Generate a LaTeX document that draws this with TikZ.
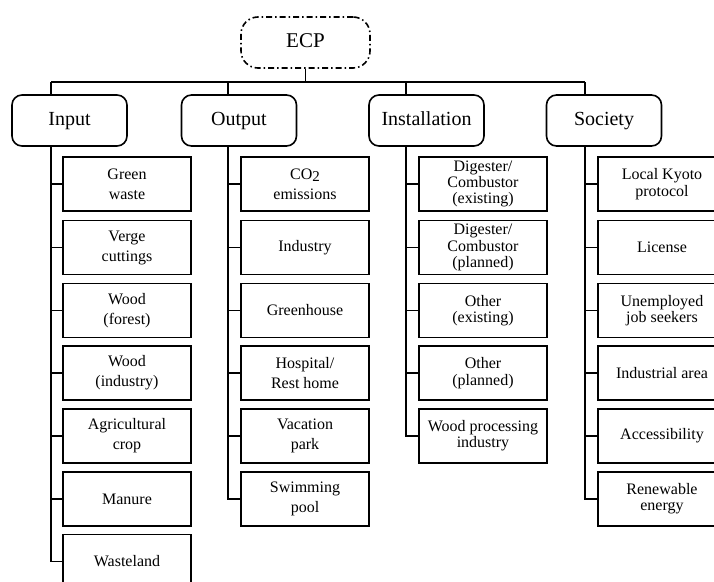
\documentclass[tikz,border=0pt]{standalone}
\usepackage{fontspec}
\setmainfont{Liberation Serif}
\begin{document}
\begin{tikzpicture}[x=1pt,y=1pt,
  leaf/.style={draw, line width=1.6pt, minimum width=128pt, minimum height=54pt,
    align=center, inner sep=2pt, font=\fontsize{16}{20}\selectfont},
  leaftight/.style={leaf, font=\fontsize{16}{16.3}\selectfont},
  cat/.style={draw, line width=1.6pt, rounded corners=10pt, minimum width=115pt,
    minimum height=51pt, text height=14pt, text depth=4pt,
    font=\fontsize{20}{24}\selectfont},
  root/.style={draw, line width=1.6pt, rounded corners=17pt,
    dash pattern=on 6pt off 3pt on 1.5pt off 3pt,
    minimum width=129pt, minimum height=51pt, text height=14pt, text depth=4pt,
    font=\fontsize{21}{24}\selectfont},
  link/.style={line width=1.3pt}]
\useasboundingbox[fill=white] (0,0) rectangle (714,-581);

% top of the hierarchy
\node[root] (ecp) at (305.5,-42.5) {ECP};

% categories
\node[cat] (input) at (69.5,-120.5) {Input};
\node[cat] (output) at (239,-120.5) {Output};
\node[cat] (inst) at (426.5,-120.5) {Installation};
\node[cat] (soc) at (604,-120.5) {Society};

% bus and trunk points
\coordinate (bus) at (305.5,-82);
\coordinate (bIn) at (51,-82);
\coordinate (bOut) at (228,-82);
\coordinate (bInst) at (406,-82);
\coordinate (bSoc) at (585,-82);
\coordinate (tIn) at (51,-146);
\coordinate (tOut) at (228,-146);
\coordinate (tInst) at (406,-146);
\coordinate (tSoc) at (585,-146);

\draw[link] (ecp.south) -- (bus);
\draw[link] (bIn) -- (bSoc);
\draw[link] (bIn) -- (input.north -| bIn);
\draw[link] (bOut) -- (output.north -| bOut);
\draw[link] (bInst) -- (inst.north -| bInst);
\draw[link] (bSoc) -- (soc.north -| bSoc);

% Input column
\node[leaf] (in1) at (127,-184) {Green\\waste};
\node[leaf] (in2) at (127,-247.5) {Verge\\cuttings};
\node[leaf] (in3) at (127,-310.5) {Wood\\(forest)};
\node[leaf] (in4) at (127,-373) {Wood\\(industry)};
\node[leaf] (in5) at (127,-436) {Agricultural\\crop};
\node[leaf] (in6) at (127,-499) {Manure};
\node[leaf] (in7) at (127,-561.5) {Wasteland};
\foreach \n in {in1,in2,in3,in4,in5,in6,in7}
  \draw[link] (tIn) |- (\n.west);

% Output column
\node[leaf] (out1) at (305,-184) {CO\raisebox{-0.35ex}{\fontsize{15}{15}\selectfont 2}\\emissions};
\node[leaf] (out2) at (305,-247.5) {Industry};
\node[leaf] (out3) at (305,-310.5) {Greenhouse};
\node[leaf] (out4) at (305,-373) {Hospital/\\Rest home};
\node[leaf] (out5) at (305,-436) {Vacation\\park};
\node[leaf] (out6) at (305,-499) {Swimming\\pool};
\foreach \n in {out1,out2,out3,out4,out5,out6}
  \draw[link] (tOut) |- (\n.west);

% Installation column
\node[leaftight] (ins1) at (483,-184) {Digester/\\Combustor\\(existing)};
\node[leaftight] (ins2) at (483,-247.5) {Digester/\\Combustor\\(planned)};
\node[leaftight] (ins3) at (483,-310.5) {Other\\(existing)};
\node[leaftight] (ins4) at (483,-373) {Other\\(planned)};
\node[leaftight] (ins5) at (483,-436) {Wood processing\\industry};
\foreach \n in {ins1,ins2,ins3,ins4,ins5}
  \draw[link] (tInst) |- (\n.west);

% Society column
\node[leaftight] (so1) at (662,-184) {Local Kyoto\\protocol};
\node[leaftight] (so2) at (662,-247.5) {License};
\node[leaftight] (so3) at (662,-310.5) {Unemployed\\job seekers};
\node[leaftight] (so4) at (662,-373) {Industrial area};
\node[leaftight] (so5) at (662,-436) {Accessibility};
\node[leaftight] (so6) at (662,-499) {Renewable\\energy};
\foreach \n in {so1,so2,so3,so4,so5,so6}
  \draw[link] (tSoc) |- (\n.west);
\end{tikzpicture}
\end{document}
